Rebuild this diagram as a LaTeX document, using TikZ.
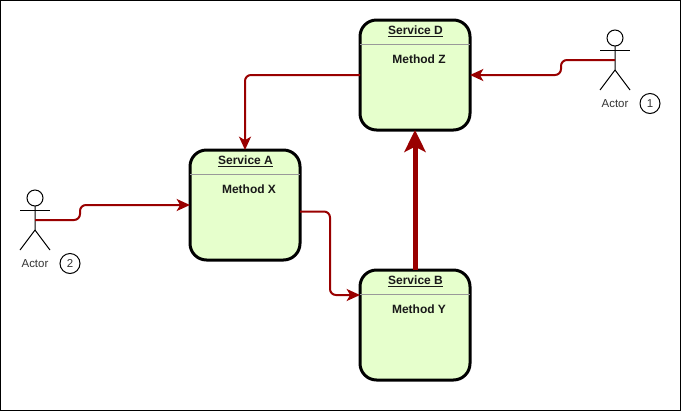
\documentclass[tikz,border=0pt]{standalone}
\usepackage{fontspec}
\setmainfont{Liberation Sans}
\usetikzlibrary{arrows.meta}
\definecolor{wire}{HTML}{990000}
\definecolor{boxfill}{HTML}{E6FFCC}
\tikzset{
  x=0.75pt,y=-0.75pt,
  service/.style={draw=black,line width=2.25pt,fill=boxfill,rounded corners=12.4pt,minimum width=82.5pt,minimum height=82.5pt,inner sep=0pt,outer sep=0pt},
  sep/.style={draw=black!40,line width=0.75pt},
  title/.style={font=\bfseries\fontsize{9pt}{10pt}\selectfont,inner sep=0pt,text=black!90},
  wirel/.style={draw=wire,line width=1.5pt,rounded corners=4.5pt,-{Stealth[length=10pt,width=9pt,inset=2.6pt]}},
  wirethick/.style={draw=wire,line width=3.75pt,-{Stealth[length=16.5pt,width=16pt,inset=4pt]}},
  stick/.style={draw=black,line width=0.75pt},
  head/.style={draw=black,line width=0.75pt,circle,minimum size=12pt,inner sep=0pt,outer sep=0pt,fill=white},
  actorlabel/.style={font=\fontsize{8.6pt}{10pt}\selectfont,inner sep=0pt,text=black!80},
  badge/.style={draw=black,line width=0.75pt,circle,minimum size=15pt,inner sep=0pt,font=\fontsize{8.6pt}{10pt}\selectfont,text=black!80},
}
\begin{document}
\begin{tikzpicture}
\useasboundingbox (0,0) rectangle (681,411);
\draw[black,line width=0.75pt] (0.5,0.5) rectangle (680.5,410.5);

% services
\node[service] (D) at (415,75) {};
\node[service] (A) at (245,205) {};
\node[service] (B) at (415,325) {};
\draw[sep] (360,44) coordinate (Dl) -- (470,44) coordinate (Dr);
\draw[sep] (190,174) coordinate (Al) -- (300,174) coordinate (Ar);
\draw[sep] (360,294.5) coordinate (Bl) -- (470,294.5) coordinate (Br);
\node[title] (Dt) at (415.5,31.5) {\underline{Service D}};
\node[title] (At) at (245.5,161.5) {\underline{Service A}};
\node[title] (Bt) at (415.5,281.5) {\underline{Service B}};
\node[title] (Dm) at (419,59.5) {Method Z};
\node[title] (Am) at (249,189.5) {Method X};
\node[title] (Bm) at (419,309.5) {Method Y};

% actor 1
\node[head] (H1) at (615,38) {};
\coordinate (W1) at (615,60);
\coordinate (C1) at (615,70);
\draw[stick] (H1.south) -- (C1) -- (600,90);
\draw[stick] (C1) -- (630,90);
\draw[stick] (600,50) -- (630,50);
\node[actorlabel] (L1) at (615,104) {Actor};
\node[badge] (N1b) at (650,103.5) {1};

% actor 2
\node[head] (H2) at (35,198) {};
\coordinate (W2) at (35,220);
\coordinate (C2) at (35,230);
\draw[stick] (H2.south) -- (C2) -- (20,250);
\draw[stick] (C2) -- (50,250);
\draw[stick] (20,210) -- (50,210);
\node[actorlabel] (L2) at (35,264) {Actor};
\node[badge] (N2b) at (70,263.5) {2};

% connectors
\coordinate (Ao) at (300,211.5);
\coordinate (Bi) at (360,295);
\draw[wirel] (W1) -- (561,60) -- (561,75) -- (D.east);
\draw[wirel] (D.west) -| (A.north);
\draw[wirel] (W2) -- (80,220) -- (80,205) -- (A.west);
\draw[wirel] (Ao) -- (330,211.5) -- (330,295) -- (Bi);
\draw[wirethick] (B.north) -- (D.south);
\end{tikzpicture}
\end{document}
